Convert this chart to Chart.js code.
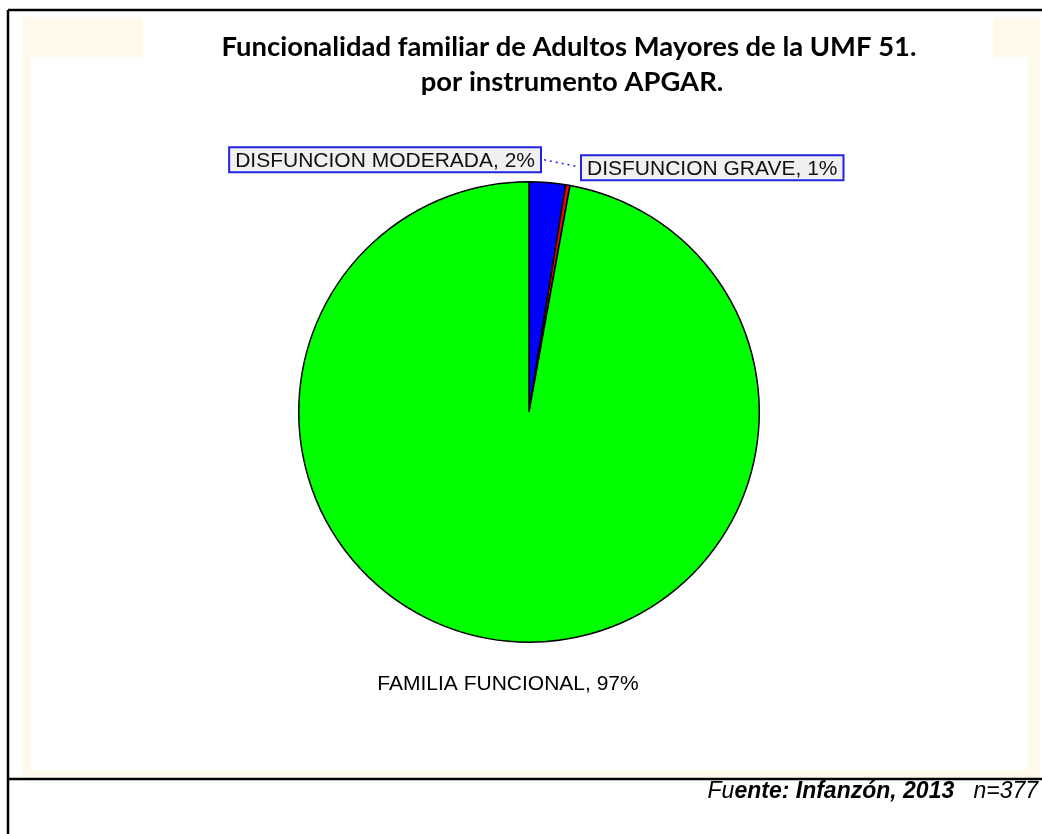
<!DOCTYPE html>
<html>
<head>
<meta charset="utf-8">
<script src="https://cdn.jsdelivr.net/npm/chart.js@4"></script>
<style>
html, body { margin: 0; padding: 0; background: #fff; }
canvas { display: block; }
</style>
</head>
<body>
<canvas id="chart1" width="1042" height="834"></canvas>
<script>
'use strict';

var categories = ['DISFUNCION MODERADA', 'DISFUNCION GRAVE', 'FAMILIA FUNCIONAL'];
var values = [2.55, 0.3, 97.15]; // slice sizes
var pctLabels = ['2%', '1%', '97%'];
var sliceColors = ['#0000FF', '#FF0000', '#00FF00'];
var titleLines = ['Funcionalidad familiar de Adultos Mayores de la UMF 51.', 'por instrumento APGAR.'];

var LABEL_FONT = '21px "Liberation Sans", Arial, sans-serif';

// page frame, yellow band and white panels
var framePlugin = {
	id: 'frame',
	beforeDraw: function(chart) {
		var c = chart.ctx;
		c.save();
		c.fillStyle = '#ffffff';
		c.fillRect(0, 0, chart.width, chart.height);
		c.fillStyle = '#FFFAEC';
		c.fillRect(22, 17, 1018, 761);
		c.fillStyle = '#ffffff';
		c.fillRect(31, 57, 997, 713);
		c.fillRect(143, 17, 850, 40);
		c.strokeStyle = '#000';
		c.lineWidth = 2.5;
		c.beginPath();
		c.moveTo(8, 10); c.lineTo(1042, 10);
		c.moveTo(8, 10); c.lineTo(8, 834);
		c.moveTo(8, 779); c.lineTo(1042, 779);
		c.stroke();
		c.restore();
	},
	afterDraw: function(chart) {
		var c = chart.ctx;
		c.save();
		// title
		c.fillStyle = '#000';
		c.font = 'bold 27.4px Lato, "Open Sans", sans-serif';
		c.textAlign = 'center';
		c.textBaseline = 'alphabetic';
		c.fillText(titleLines[0], 569, 56);
		c.fillText(titleLines[1], 572, 91);

		// footer, built right to left
		var parts = [
			{ t: 'Fu', f: 'italic 23px "Liberation Sans", Arial, sans-serif' },
			{ t: 'ente: Infanzón, 2013', f: 'italic bold 23px "Liberation Sans", Arial, sans-serif' },
			{ t: '   ', f: 'italic 23px "Liberation Sans", Arial, sans-serif' },
			{ t: 'n=377', f: 'italic 23px "Liberation Sans", Arial, sans-serif' }
		];
		var total = 0;
		parts.forEach(function(p) { c.font = p.f; p.w = c.measureText(p.t).width; total += p.w; });
		var x = 1038 - total;
		c.textAlign = 'left';
		parts.forEach(function(p) { c.font = p.f; c.fillText(p.t, x, 798); x += p.w; });
		c.restore();
	}
};

// boxed data labels with leader line
var labelPlugin = {
	id: 'sliceLabels',
	afterDatasetsDraw: function(chart) {
		var c = chart.ctx;
		var meta = chart.getDatasetMeta(0);
		var arc = meta.data[0];
		var cx = arc.x, cy = arc.y, r = arc.outerRadius;
		var txt = categories.map(function(n, i) { return n + ', ' + pctLabels[i]; });
		c.save();
		c.font = LABEL_FONT;
		c.textBaseline = 'middle';

		function box(text, left, midY) {
			var w = c.measureText(text).width + 12;
			c.fillStyle = '#F0F0F0';
			c.fillRect(left, midY - 12.5, w, 25);
			c.strokeStyle = '#2323E6';
			c.lineWidth = 2;
			c.strokeRect(left, midY - 12.5, w, 25);
			c.fillStyle = '#111';
			c.textAlign = 'left';
			c.fillText(text, left + 6, midY + 1);
			return w;
		}

		// moderada: box ends just right of the top of the pie
		var wMod = c.measureText(txt[0]).width + 12;
		var modRight = cx + 12;
		box(txt[0], modRight - wMod, cy - r - 22);
		// grave
		var graveLeft = cx + 52;
		box(txt[1], graveLeft, cy - r - 14);
		// dotted leader
		c.strokeStyle = '#2323E6';
		c.lineWidth = 1.5;
		c.setLineDash([2, 4]);
		c.beginPath();
		c.moveTo(modRight + 3, cy - r - 22);
		c.lineTo(graveLeft - 3, cy - r - 15);
		c.stroke();
		c.setLineDash([]);
		// funcional, no box
		c.fillStyle = '#000';
		c.textAlign = 'center';
		c.fillText(txt[2], cx - 21, cy + r + 42);
		c.restore();
	}
};

var ctx = document.getElementById('chart1').getContext('2d');
var pieChart = new Chart(ctx, {
	type: 'pie',
	data: {
		labels: categories,
		datasets: [{
			data: values,
			backgroundColor: sliceColors,
			borderColor: '#000000',
			borderWidth: 1.5
		}]
	},
	options: {
		responsive: false,
		animation: false,
		layout: {
			padding: { left: 298, right: 282, top: 181, bottom: 191 }
		},
		plugins: {
			legend: { display: false },
			tooltip: { enabled: false },
			title: { display: false }
		}
	},
	plugins: [framePlugin, labelPlugin]
});
</script>
</body>
</html>
